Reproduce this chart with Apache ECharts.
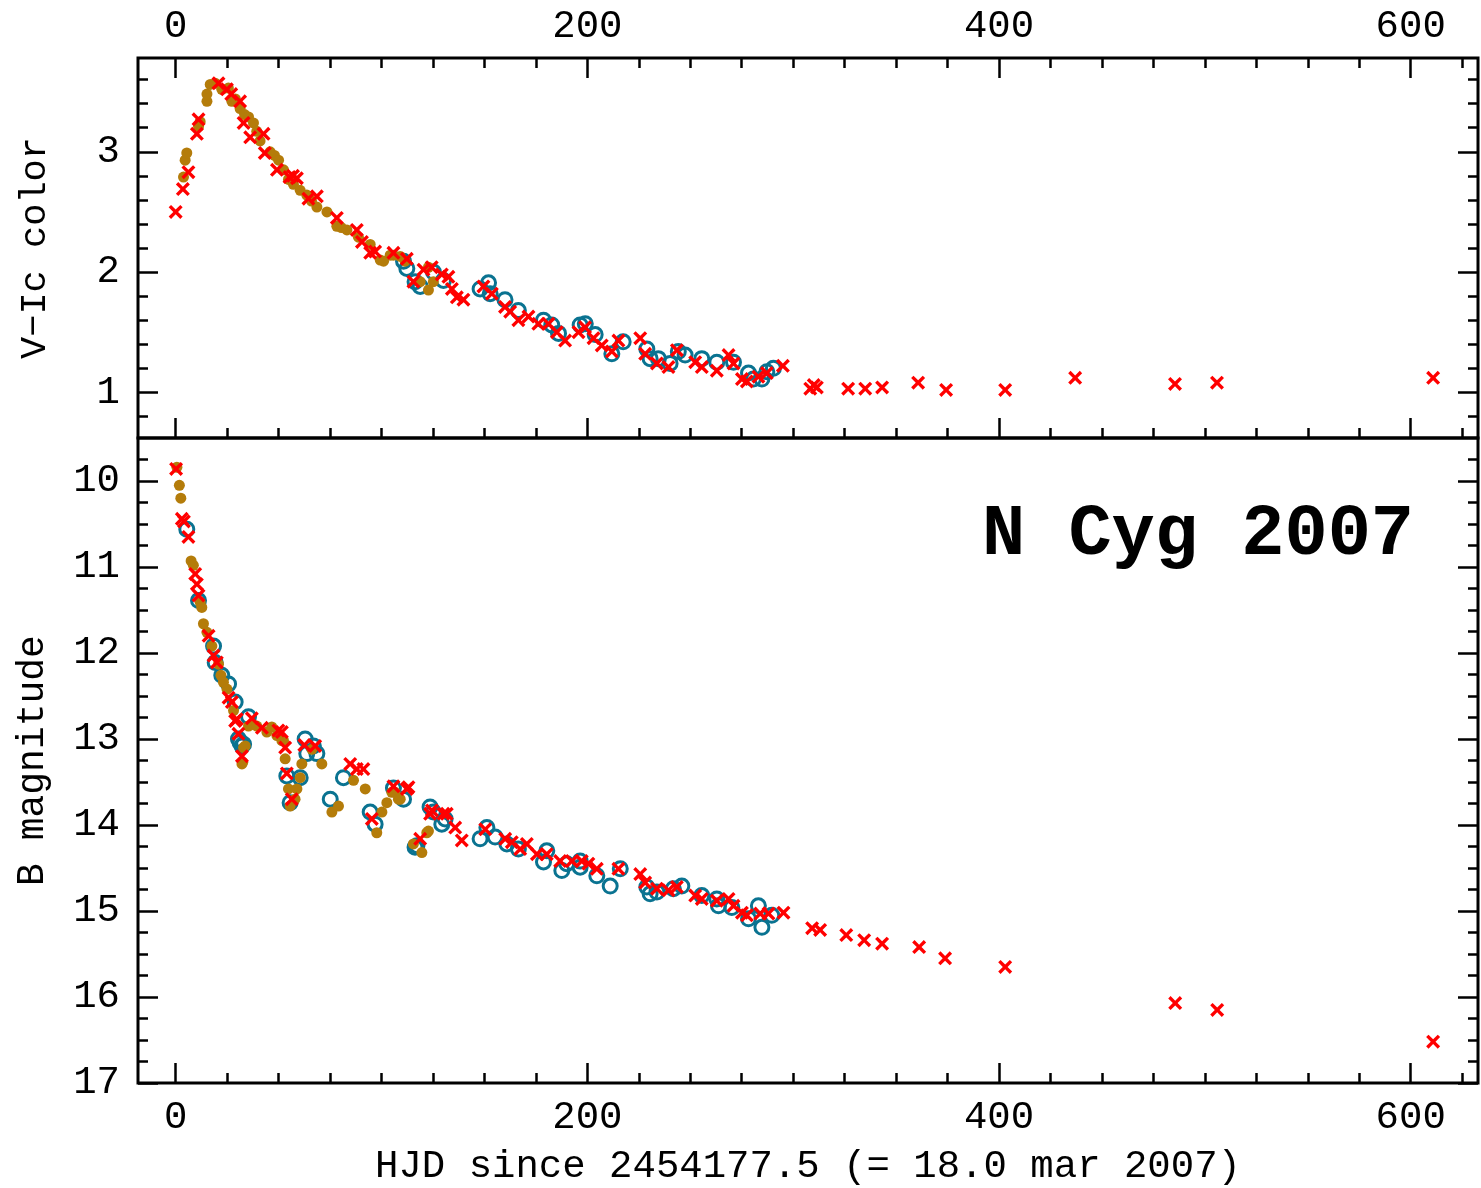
<!DOCTYPE html>
<html>
<head>
<meta charset="utf-8">
<script src="https://cdn.jsdelivr.net/npm/echarts@6/dist/echarts.min.js"></script>
<style>
html,body{margin:0;padding:0;background:#fff;}
#chart{width:1481px;height:1188px;}
</style>
</head>
<body>
<div id="chart"></div>
<script>
// ---------- data (HJD since 2454177.5, value) ----------
const xTickLabels = [0, 200, 400, 600];
const vicTickLabels = [1, 2, 3];
const bTickLabels = [10, 11, 12, 13, 14, 15, 16, 17];

// V-Ic colour: red crosses
const vicCross = [[0,2.50],[3.5,2.69],[6.2,2.83],[10.3,3.15],[11.1,3.27],[20.8,3.57],[24.9,3.52],[27,3.48],[31.3,3.42],[33,3.24],[36.2,3.12],[42.7,3.15],[43.3,2.99],[49.2,2.85],[55.3,2.79],[57,2.80],[58.9,2.78],[64.5,2.61],[68.6,2.63],[78.3,2.45],[88,2.35],[90.5,2.25],[94.5,2.16],[96.9,2.17],[105.8,2.16],[112.3,2.11],[115.5,1.92],[120.4,2.02],[124.4,2.04],[129.3,1.98],[132.5,1.96],[134.2,1.86],[136.6,1.79],[139.8,1.77],[149.5,1.88],[153.6,1.82],[160,1.71],[162.5,1.67],[166.5,1.60],[171.4,1.63],[176.2,1.57],[181.1,1.57],[185.2,1.50],[189.2,1.43],[195.7,1.50],[198.9,1.54],[203,1.45],[207,1.39],[211.9,1.34],[215.1,1.43],[225.7,1.45],[228.1,1.32],[233.8,1.24],[239.4,1.21],[243.5,1.35],[252.4,1.25],[255.6,1.21],[262.9,1.18],[268.6,1.31],[271,1.24],[275.1,1.11],[277.5,1.09],[283.1,1.13],[287.2,1.16],[295,1.22],[308.3,1.03],[310,1.06],[311.5,1.04],[326.7,1.03],[335,1.03],[343.2,1.04],[360.7,1.08],[374.3,1.02],[403,1.02],[437,1.12],[485.5,1.07],[505.9,1.08],[610.9,1.12]];
// V-Ic colour: filled dots
const vicDot = [[3.8,2.79],[4.6,2.93],[5.4,2.99],[11.1,3.21],[11.9,3.25],[15.2,3.42],[15.2,3.48],[16.8,3.56],[19.2,3.57],[22.4,3.52],[25.6,3.53],[27.3,3.42],[29,3.44],[31.3,3.36],[33.5,3.31],[35.4,3.29],[37.8,3.24],[39.4,3.17],[41,3.09],[45.9,3.00],[48,2.97],[50,2.93],[52.4,2.85],[54.8,2.77],[57.2,2.73],[60.5,2.68],[63.7,2.64],[66,2.59],[68.6,2.54],[73.5,2.50],[78.3,2.38],[80.5,2.37],[83.2,2.35],[88.8,2.29],[94.5,2.23],[99.4,2.10],[101,2.09],[104.2,2.14],[105.8,2.14],[109.1,2.13],[111.5,2.09],[118.8,1.92],[122.8,2.04],[122.8,1.85],[125.2,1.92]];
// V-Ic colour: open circles
const vicCircle = [[110.7,2.09],[112.3,2.03],[116.3,1.92],[118.8,1.88],[125.2,2.00],[130.1,1.93],[147.9,1.86],[152,1.91],[152.8,1.82],[160,1.77],[166.5,1.68],[178.7,1.60],[182.7,1.56],[186,1.49],[196.5,1.56],[199,1.57],[203.8,1.48],[211.9,1.32],[217.4,1.42],[228.9,1.36],[230.5,1.28],[234.5,1.28],[240.2,1.24],[244.2,1.34],[247.5,1.31],[255.6,1.28],[262.9,1.25],[271,1.25],[278.3,1.16],[280.7,1.11],[284.8,1.11],[287.2,1.17],[290.4,1.20]];

// B magnitude: red crosses
const bCross = [[0.2,9.86],[3,10.44],[4,10.47],[6.2,10.65],[9.5,11.08],[10.3,11.20],[11.1,11.33],[16,11.80],[18.4,12.03],[20,12.11],[25.7,12.52],[27.3,12.57],[28.9,12.79],[29.7,12.77],[30.5,12.94],[32.2,13.20],[37,12.76],[41.9,12.87],[49.9,12.90],[51.6,12.92],[53.2,13.10],[54,13.40],[56.4,13.70],[62.5,13.07],[67.8,13.08],[84.8,13.29],[88,13.35],[91.2,13.35],[95.3,13.93],[105.8,13.55],[112.3,13.58],[113.1,13.56],[118.8,14.16],[123.6,13.87],[124.5,13.83],[130.1,13.87],[131.7,13.87],[135.8,14.03],[139,14.18],[150.4,14.05],[160.1,14.16],[163.3,14.20],[167.4,14.28],[170.6,14.22],[175.5,14.34],[180.3,14.34],[186.8,14.42],[192.5,14.42],[197.3,14.42],[200.5,14.45],[204.6,14.51],[215.1,14.51],[225.7,14.57],[228.1,14.67],[233.8,14.74],[239.4,14.76],[243.5,14.72],[252.4,14.82],[255.6,14.86],[262.9,14.88],[268.6,14.86],[271,14.94],[275.1,15.02],[277.5,15.05],[284,15.03],[288,15.03],[295.3,15.02],[309.2,15.20],[313.1,15.22],[325.8,15.28],[334.5,15.34],[343.2,15.38],[361.2,15.42],[373.8,15.55],[403,15.65],[485.6,16.07],[506,16.15],[610.9,16.52]];
// B magnitude: filled dots
const bDot = [[0.6,9.84],[1.8,10.05],[2.5,10.20],[7.5,10.93],[8.6,10.98],[11.9,11.41],[12.7,11.47],[13.5,11.66],[15.2,11.76],[17.6,11.92],[20.8,12.13],[22,12.26],[23.2,12.34],[24.9,12.42],[28.1,12.67],[32.2,13.29],[32.6,13.27],[33,13.10],[33.8,13.08],[35.4,12.85],[37,12.83],[39.4,12.85],[44.3,12.92],[46.7,12.86],[49.2,12.96],[51.6,13.02],[52.4,13.02],[53.2,13.23],[54.8,13.58],[55.6,13.78],[58,13.70],[58.9,13.58],[60.5,13.45],[61.3,13.29],[66.2,13.12],[71,13.29],[75.9,13.85],[79.1,13.78],[86.4,13.48],[92.1,13.58],[97.7,14.09],[100.2,13.85],[102.6,13.74],[105,13.62],[106.6,13.62],[108.2,13.70],[109.1,13.70],[115.5,14.22],[119.6,14.32],[122,14.09],[122.8,14.07]];
// B magnitude: open circles
const bCircle = [[5.4,10.56],[11.1,11.39],[18.4,11.92],[19.2,12.11],[22.4,12.26],[25.7,12.36],[28.9,12.57],[30.5,13.00],[31.3,13.04],[32.2,13.08],[33,13.06],[35.4,12.74],[54,13.43],[55.6,13.74],[60.5,13.45],[62.9,13.00],[63.7,13.17],[66.9,13.08],[68.6,13.17],[75.1,13.70],[81.5,13.45],[94.5,13.85],[96.9,13.99],[105.8,13.57],[110.7,13.70],[116.3,14.26],[117.2,14.24],[123.6,13.79],[125.2,13.85],[129.3,13.99],[130.9,13.93],[147.9,14.16],[151.2,14.03],[155.2,14.14],[160.9,14.22],[166.5,14.28],[178.7,14.43],[180.3,14.30],[187.6,14.53],[190,14.45],[196.5,14.42],[196.5,14.49],[204.6,14.59],[211.1,14.71],[216,14.51],[228.9,14.72],[230.5,14.80],[233.8,14.78],[241.8,14.74],[245.9,14.71],[255.6,14.82],[262.9,14.86],[263.7,14.94],[270.2,14.96],[278.3,15.09],[283.1,14.94],[284.8,15.19],[289.6,15.05]];

// ---------- axis helpers ----------
const FONT = 'Liberation Mono';
const X_MIN = -18.3, X_MAX = 632.7;
const VIC_MIN = 0.62, VIC_MAX = 3.78;
const B_MIN = 9.5, B_MAX = 17;

function range(a, b, step) { const r = []; for (let v = a; v <= b + 1e-9; v += step) r.push(+v.toFixed(4)); return r; }
const xMinor = range(0, 625, 25);
const vicMinor = range(0.8, 3.6, 0.2);
const bMinor = range(9.75, 16.75, 0.25);

function xAx(grid, pos, ticks, len, labels, extra) {
  return Object.assign({
    type: 'value', gridIndex: grid, position: pos, min: X_MIN, max: X_MAX,
    axisLine: { show: false, onZero: false }, splitLine: { show: false },
    axisTick: { show: true, inside: true, length: len, customValues: ticks, lineStyle: { color: '#000', width: 2.5 } },
    axisLabel: labels ? { show: true, customValues: labels, fontFamily: FONT, fontSize: 39, color: '#000', margin: pos === 'top' ? 12 : 15 } : { show: false }
  }, extra || {});
}
function yAx(grid, pos, mn, mx, inv, ticks, len, labels, extra) {
  return Object.assign({
    type: 'value', gridIndex: grid, position: pos, min: mn, max: mx, inverse: inv,
    axisLine: { show: false, onZero: false }, splitLine: { show: false },
    axisTick: { show: true, inside: true, length: len, customValues: ticks, lineStyle: { color: '#000', width: 2.5 } },
    axisLabel: labels ? { show: true, customValues: labels, fontFamily: FONT, fontSize: 39, color: '#000', margin: 18 } : { show: false }
  }, extra || {});
}

const CROSS = 'path://M0,1.7L1.7,0L5,3.3L8.3,0L10,1.7L6.7,5L10,8.3L8.3,10L5,6.7L1.7,10L0,8.3L3.3,5Z';
const RED = '#ff0000', BROWN = '#b47c0a', TEAL = '#0a7391';

function circleS(data, xi, yi) {
  return { type: 'scatter', xAxisIndex: xi, yAxisIndex: yi, data: data, symbol: 'circle', symbolSize: 14,
    itemStyle: { color: 'rgba(0,0,0,0)', borderColor: TEAL, borderWidth: 3, opacity: 1 }, silent: true, z: 2 };
}
function dotS(data, xi, yi) {
  return { type: 'scatter', xAxisIndex: xi, yAxisIndex: yi, data: data, symbol: 'circle', symbolSize: 11,
    itemStyle: { color: BROWN, opacity: 1 }, silent: true, z: 3 };
}
function crossS(data, xi, yi) {
  return { type: 'scatter', xAxisIndex: xi, yAxisIndex: yi, data: data, symbol: CROSS, symbolSize: 14,
    itemStyle: { color: RED, opacity: 1 }, silent: true, z: 4 };
}

const chart = echarts.init(document.getElementById('chart'), null, { renderer: 'canvas' });
chart.setOption({
  animation: false,
  backgroundColor: '#fff',
  grid: [
    { left: 138, top: 58, right: 3, height: 380, show: true, borderColor: '#000', borderWidth: 3, backgroundColor: 'transparent', containLabel: false, outerBoundsMode: 'none' },
    { left: 138, top: 438, right: 3, height: 645, show: true, borderColor: '#000', borderWidth: 3, backgroundColor: 'transparent', containLabel: false, outerBoundsMode: 'none' }
  ],
  xAxis: [
    xAx(0, 'top', xTickLabels, 20, xTickLabels),
    xAx(0, 'top', xMinor, 10, null),
    xAx(0, 'bottom', xTickLabels, 20, null),
    xAx(0, 'bottom', xMinor, 10, null),
    xAx(1, 'bottom', xTickLabels, 20, xTickLabels, {
      name: 'HJD since 2454177.5 (= 18.0 mar 2007)', nameLocation: 'middle', nameGap: 64,
      nameTextStyle: { fontFamily: FONT, fontSize: 39, color: '#000' }
    }),
    xAx(1, 'bottom', xMinor, 10, null)
  ],
  yAxis: [
    yAx(0, 'left', VIC_MIN, VIC_MAX, false, vicTickLabels, 20, vicTickLabels, {
      name: 'V\u2212Ic color', nameLocation: 'middle', nameGap: 84,
      nameTextStyle: { fontFamily: FONT, fontSize: 37, color: '#000' }
    }),
    yAx(0, 'left', VIC_MIN, VIC_MAX, false, vicMinor, 10, null),
    yAx(0, 'right', VIC_MIN, VIC_MAX, false, vicTickLabels, 20, null),
    yAx(0, 'right', VIC_MIN, VIC_MAX, false, vicMinor, 10, null),
    yAx(1, 'left', B_MIN, B_MAX, true, bTickLabels, 20, bTickLabels, {
      name: 'B magnitude', nameLocation: 'middle', nameGap: 86,
      nameTextStyle: { fontFamily: FONT, fontSize: 38, color: '#000' }
    }),
    yAx(1, 'left', B_MIN, B_MAX, true, bMinor, 10, null),
    yAx(1, 'right', B_MIN, B_MAX, true, bTickLabels, 20, null),
    yAx(1, 'right', B_MIN, B_MAX, true, bMinor, 10, null)
  ],
  graphic: [{
    type: 'text', left: 982, top: 500, silent: true,
    style: { text: 'N Cyg 2007', fontFamily: FONT, fontWeight: 'bold', fontSize: 72, fill: '#000' }
  }],
  series: [
    circleS(vicCircle, 0, 0), dotS(vicDot, 0, 0), crossS(vicCross, 0, 0),
    circleS(bCircle, 4, 4), dotS(bDot, 4, 4), crossS(bCross, 4, 4)
  ]
});
</script>
</body>
</html>
